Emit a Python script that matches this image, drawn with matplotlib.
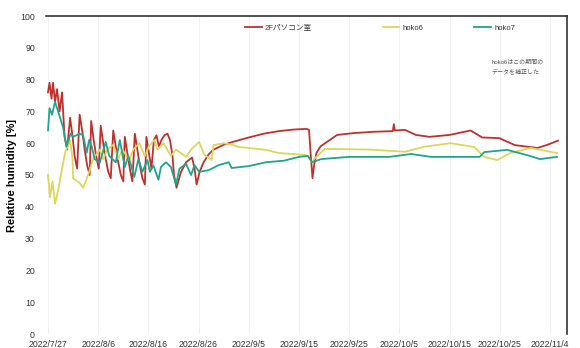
import matplotlib
matplotlib.use("Agg")
import matplotlib.pyplot as plt
from matplotlib.legend import Legend
import numpy as np
import pandas as pd

plt.rcParams['font.family'] = ['Liberation Sans', 'Noto Sans CJK JP']

start = pd.Timestamp("2022-07-27")

# 2F room: (days since 2022/7/27, relative humidity %)
room_days = [0.0, 0.3, 0.7, 1.0, 1.4, 1.8, 2.3, 2.8, 3.3, 3.8, 4.4, 4.9, 5.3, 5.8,
             6.3, 6.8, 7.3, 7.8, 8.3, 8.6, 9.1, 9.6, 10.1, 10.5, 11.0, 11.5, 12.0,
             12.5, 13.0, 13.5, 14.0, 14.5, 15.0, 15.3, 15.8, 16.3, 16.8, 17.3, 17.8,
             18.3, 18.8, 19.3, 19.6, 20.1, 20.6, 21.1, 21.6, 22.1, 22.6, 23.2, 23.8,
             24.3, 24.8, 25.1, 25.6, 26.5, 27.5, 28.7, 29.2, 29.6, 30.2, 31.0, 32.0,
             33.0, 35.0, 37.0, 40.0, 43.0, 46.0, 49.0, 51.5, 52.0, 52.4, 52.7, 53.0,
             53.5, 54.3, 55.2, 57.6, 61.0, 65.0, 68.7, 68.9, 69.1, 71.1, 73.3, 76.0,
             80.0, 84.2, 86.5, 89.9, 93.0, 97.5, 99.5, 101.6]
room_rh = [76, 79, 74, 79, 73, 77, 70, 76, 62, 58, 68, 62, 56, 52,
           69, 64, 58, 53, 50, 67, 61, 56, 52, 65.5, 60, 55, 51,
           49, 64, 59, 54, 50, 48, 62, 57, 52, 48, 63, 58,
           53, 49, 47, 62, 57, 52, 61, 62.5, 59, 61, 62.5, 63,
           61, 56, 50, 46, 51, 54, 55.5, 52, 47, 51, 54, 56.5,
           58, 59.5, 60.5, 61.8, 63, 63.8, 64.3, 64.5, 64.2, 55, 49, 53,
           57, 59, 60, 62.6, 63.2, 63.6, 63.8, 66, 64, 64.2, 62.6, 62,
           62.6, 64, 61.8, 61.6, 59.4, 58.5, 59.5, 60.8]

# hoko6
hoko6_days = [0.0, 0.4, 0.9, 1.4, 2.0, 2.8, 3.4, 4.4, 4.9, 5.0, 6.3, 7.0, 8.0, 9.0,
              10.3, 11.0, 11.8, 13.0, 14.0, 14.8, 16.2, 17.0, 18.2, 19.3, 20.1,
              21.2, 21.8, 23.0, 24.5, 25.5, 27.5, 28.5, 30.1, 31.1, 32.6, 33.0,
              35.0, 37.0, 38.0, 40.0, 43.4, 46.0, 51.3, 52.0, 52.5, 53.0, 54.0,
              55.2, 64.0, 71.1, 75.0, 80.2, 84.9, 86.9, 89.5, 92.1, 96.1, 99.5, 101.4]
hoko6_rh = [50, 43, 48, 41, 45, 52, 57, 61, 55, 49, 47.5, 46, 50, 55,
            58, 55, 58, 59.5, 55, 58, 54.7, 58, 60, 56, 59,
            61, 58, 60, 56, 58, 55.7, 58, 60.4, 56.5, 54.7, 59.4,
            60, 59.4, 58.8, 58.5, 57.9, 56.9, 56.3, 55.5, 54, 55, 56.5,
            58.2, 58, 57.3, 58.9, 60, 58.8, 55.7, 54.7, 56.9, 58.5, 57.5, 56.9]

# hoko7
hoko7_days = [0.0, 0.3, 0.8, 1.4, 2.0, 2.4, 3.0, 3.7, 4.5, 5.0, 6.3, 7.0, 7.7, 8.2,
              8.7, 9.3, 10.3, 11.5, 12.2, 13.5, 14.3, 15.3, 16.0, 17.2, 18.0, 18.8,
              19.8, 20.3, 21.0, 22.0, 22.5, 23.5, 24.5, 25.5, 26.2, 27.5, 28.5,
              29.2, 30.1, 32.0, 34.0, 36.0, 36.6, 40.0, 43.4, 47.0, 50.0, 51.8,
              52.6, 54.4, 60.0, 68.0, 72.3, 76.3, 86.0, 86.9, 91.5, 96.0, 98.0, 101.4]
hoko7_rh = [64, 71, 69, 73, 70, 68, 65, 59, 63, 62, 63, 62.5, 57, 61,
            59, 55, 53.8, 60.4, 56, 54, 61, 52.5, 56, 49.4, 55, 51,
            54.7, 51, 53, 48.5, 52.5, 54, 52.5, 47, 52, 53.5, 50,
            53.1, 51, 51.5, 53.1, 54, 52.2, 52.8, 54, 54.5, 55.7, 56,
            54, 55, 55.7, 55.7, 56.6, 55.7, 55.7, 57.2, 57.9, 56, 55, 55.7]

tick_labels = ["2022/7/27", "2022/8/6", "2022/8/16", "2022/8/26", "2022/9/5",
               "2022/9/15", "2022/9/25", "2022/10/5", "2022/10/15", "2022/10/25",
               "2022/11/4"]
y_ticks = [0, 10, 20, 30, 40, 50, 60, 70, 80, 90, 100]

series = [
    ("2Fパソコン室", room_days, room_rh, "#c0302f"),
    ("hoko6", hoko6_days, hoko6_rh, "#dcd65a"),
    ("hoko7", hoko7_days, hoko7_rh, "#1fa58a"),
]

fig = plt.figure(figsize=(5.8, 3.48), dpi=100)
ax = fig.add_axes([46 / 580, 14 / 348, 521 / 580, 318 / 348])

lines = []
for name, d, v, c in series:
    t = start + pd.to_timedelta(np.array(d), unit="D")
    ln, = ax.plot(t, v, color=c, lw=1.3, label=name)
    lines.append(ln)

ticks = [pd.Timestamp(s.replace("/", "-")) for s in tick_labels]
ax.set_xticks(ticks)
ax.set_xticklabels(tick_labels, fontsize=6.3, color="#333333")
ax.set_xlim(start - pd.Timedelta(days=0.4), start + pd.Timedelta(days=103.4))
ax.set_ylim(0, 100)
ax.set_yticks(y_ticks)
ax.set_yticklabels([str(v) for v in y_ticks], fontsize=6.3, color="#333333")
ax.tick_params(axis="both", length=0)
ax.tick_params(axis="x", pad=4)
ax.tick_params(axis="y", pad=8)

for s in ["left", "bottom"]:
    ax.spines[s].set_visible(False)
for s in ["top", "right"]:
    ax.spines[s].set_color("#222222")
    ax.spines[s].set_linewidth(1.1)

ax.xaxis.grid(True, color="#f2f2f2", lw=0.8)
ax.set_axisbelow(True)

ax.set_ylabel("Relative humidity [%]", fontsize=8, fontweight="bold")
ax.yaxis.set_label_coords(-0.056, 0.5)

# one legend entry per series, spread along the top of the plot
legend_x = [0.382, 0.646, 0.822]
for ln, lx in zip(lines, legend_x):
    lg = Legend(ax, [ln], [ln.get_label()], loc="center left",
                bbox_to_anchor=(lx, 0.962), frameon=False, fontsize=5.5,
                handlelength=2.2, handletextpad=0.4, borderpad=0, borderaxespad=0)
    for txt in lg.get_texts():
        txt.set_color("#333333")
    ax.add_artist(lg)

ax.text(0.855, 0.865, "hoko6はこの期間の\nデータを補正した", transform=ax.transAxes,
        fontsize=4.3, color="#555555", va="top", ha="left", linespacing=1.8)

fig.savefig("out.png", dpi=100)
